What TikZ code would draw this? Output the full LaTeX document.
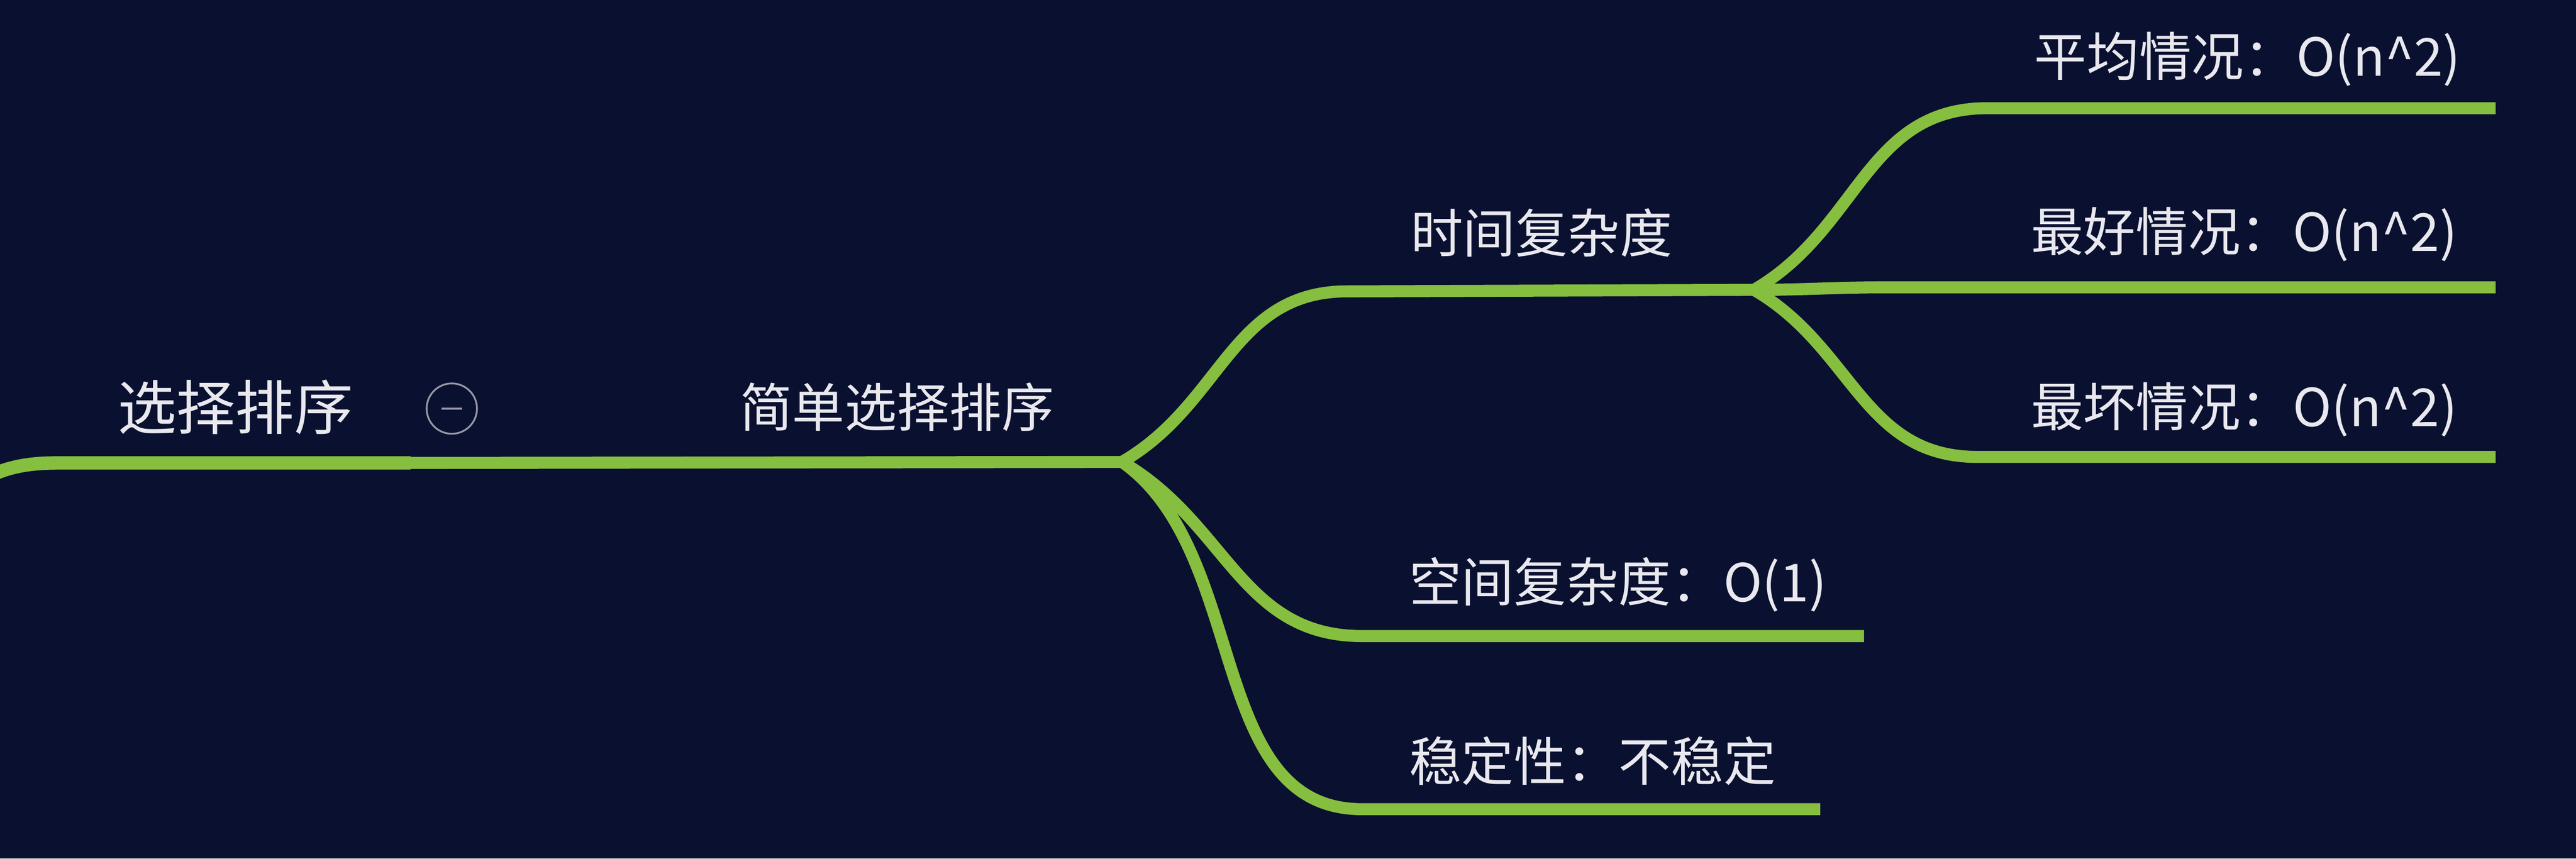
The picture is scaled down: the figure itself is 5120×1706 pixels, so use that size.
\documentclass[tikz,border=0pt]{standalone}
\usepackage{fontspec}
\newfontfamily\cjk{Noto Sans CJK SC}

\definecolor{mapbg}{HTML}{0A1030}
\definecolor{mapgreen}{HTML}{86BE3F}
\definecolor{maptext}{HTML}{E8E8EE}
\definecolor{mapgrey}{HTML}{9898A6}

\tikzset{
  topic/.style={text=maptext, anchor=base west, inner sep=0pt, font=\cjk\fontsize{29.6pt}{36pt}\selectfont},
  roottopic/.style={topic, font=\cjk\fontsize{33.3pt}{40pt}\selectfont},
  branch/.style={draw=mapgreen, line width=6.8pt},
  trunk/.style={draw=mapgreen, line width=7.6pt},
  foldbtn/.style={circle, draw=mapgrey, line width=1pt, minimum size=1cm, inner sep=0pt},
}

\begin{document}
\begin{tikzpicture}[x=0.01cm, y=0.01cm]

\useasboundingbox (0, 0) rectangle (5120, 1706);
\fill[mapbg] (0, 0) rectangle (5120, 1706);

\node[roottopic] (root) at (233, 852) {选择排序};
\node[foldbtn] (fold) at (898, 894) {};
\draw[mapgrey, line width=1pt] ([xshift=-2mm]fold.center) -- ([xshift=2mm]fold.center);

\node[topic] (simple) at (1470, 858) {简单选择排序};
\node[topic] (time) at (2803, 1204) {时间复杂度};
\node[topic] (space) at (2800, 510) {空间复杂度：O(1)};
\node[topic] (stable) at (2800, 154) {稳定性：不稳定};
\node[topic] (avg) at (4043, 1555) {平均情况：O(n\textasciicircum 2)};
\node[topic] (best) at (4036, 1207) {最好情况：O(n\textasciicircum 2)};
\node[topic] (worst) at (4036, 859) {最坏情况：O(n\textasciicircum 2)};

\coordinate (offmap) at (-60, 740);
\coordinate (rootL) at (115, 786);
\coordinate (rootR) at (816, 786);
\coordinate (hubA) at (2230, 788);
\coordinate (timeL) at (2678, 1127);
\coordinate (hubB) at (3486, 1130);
\coordinate (spaceL) at (2707, 442);
\coordinate (spaceR) at (3705, 442);
\coordinate (stableL) at (2707, 98);
\coordinate (stableR) at (3618, 98);
\coordinate (avgL) at (3950, 1491);
\coordinate (avgR) at (4960, 1491);
\coordinate (bestL) at (3750, 1135);
\coordinate (bestR) at (4960, 1135);
\coordinate (worstL) at (3930, 798);
\coordinate (worstR) at (4960, 798);

\draw[trunk] (offmap) to[out=30, in=180] (rootL) -- (rootR);
\draw[branch] (rootR) -- (hubA);
\draw[branch] (hubA) to[out=30, in=180, looseness=1.05] (timeL) -- (hubB);
\draw[branch] (hubA) to[out=-30, in=180, looseness=1.05] (spaceL) -- (spaceR);
\draw[branch] (hubA) to[out=-35, in=180, looseness=0.95] (stableL) -- (stableR);
\draw[branch] (hubB) to[out=30, in=180, looseness=1.05] (avgL) -- (avgR);
\draw[branch] (hubB) to[out=0, in=180] (bestL) -- (bestR);
\draw[branch] (hubB) to[out=-30, in=180, looseness=1.05] (worstL) -- (worstR);

\end{tikzpicture}
\end{document}
